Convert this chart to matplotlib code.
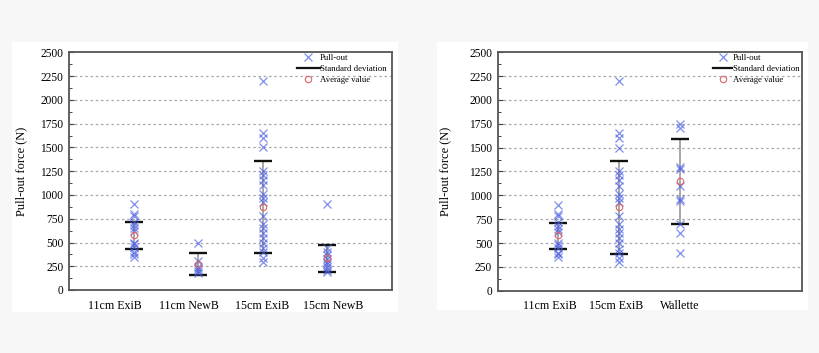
import matplotlib
matplotlib.use("Agg")
import matplotlib.pyplot as plt
from matplotlib.lines import Line2D
from matplotlib.patches import Rectangle
from matplotlib.ticker import MultipleLocator

plt.rcParams['font.family'] = ['Liberation Serif', 'DejaVu Serif']

# ---------------- data ----------------
left_categories = ["11cm ExiB", "11cm NewB", "15cm ExiB", "15cm NewB"]
right_categories = ["11cm ExiB", "15cm ExiB", "Wallette"]

exib11 = [900, 800, 780, 720, 680, 650, 620, 500, 480, 450, 400, 380, 350]
newb11 = [500, 310, 240, 220, 200, 180]
exib15 = [2200, 1650, 1600, 1500, 1250, 1210, 1160, 1100, 1010, 970, 930,
          780, 700, 650, 600, 550, 500, 440, 400, 340, 300]
newb15 = [900, 440, 400, 370, 330, 300, 270, 240, 210, 190]
wallette = [1750, 1710, 1300, 1280, 1100, 960, 940, 700, 600, 400]

left_series = [exib11, newb11, exib15, newb15]
left_mean = [580, 275, 875, 340]
left_std_low = [435, 155, 385, 190]
left_std_high = [715, 388, 1360, 470]

right_series = [exib11, exib15, wallette]
right_mean = [580, 875, 1152]
right_std_low = [435, 380, 700]
right_std_high = [715, 1358, 1590]

yticks = [0, 250, 500, 750, 1000, 1250, 1500, 1750, 2000, 2250, 2500]

# ---------------- figure ----------------
W, H = 820, 353
fig = plt.figure(figsize=(W / 100, H / 100), dpi=100)
fig.patch.set_facecolor('#f7f7f7')
fig.add_artist(Rectangle((12 / W, 1 - 312 / H), 386 / W, 270 / H,
                         transform=fig.transFigure, facecolor='white',
                         edgecolor='none', zorder=-10))
fig.add_artist(Rectangle((437 / W, 1 - 310 / H), 371 / W, 268 / H,
                         transform=fig.transFigure, facecolor='white',
                         edgecolor='none', zorder=-10))

ax1 = fig.add_axes([69 / W, 1 - 290 / H, 323 / W, 237.5 / H])
ax2 = fig.add_axes([497.7 / W, 1 - 290.7 / H, 304 / W, 238.4 / H])
ax1.set_zorder(5)
ax2.set_zorder(5)

XCOL = '#4a5fe0'
MCOL = '#e06464'


def draw(ax, series, means, lows, highs, labels, label_pos, leg_x, leg_handle_len):
    ax.set_facecolor('white')
    ax.set_xlim(0, 5)
    ax.set_ylim(0, 2500)
    for yv in yticks[1:-1]:
        ax.axhline(yv, color='#a8a8a8', lw=0.9, ls=(0, (2.0, 2.2)), zorder=1)
    for i, vals in enumerate(series):
        xpos = i + 1
        m = means[i]
        eb = ax.errorbar([xpos], [m], yerr=[[m - lows[i]], [highs[i] - m]],
                         fmt='none', ecolor='#a0a0a0', elinewidth=1.3,
                         capsize=6.2, capthick=1.7, zorder=2)
        for cl in eb[1]:
            cl.set_markeredgecolor('#111111')
            cl.set_color('#111111')
        ax.plot([xpos] * len(vals), vals, ls='none', marker='x', ms=5.2,
                mew=0.9, color=XCOL, alpha=0.7, zorder=3)
        ax.plot([xpos], [m], ls='none', marker='o', ms=4.6, mew=0.8,
                mfc='none', mec=MCOL, zorder=4)
    ax.set_yticks(yticks)
    ax.set_yticklabels([str(v) for v in yticks], fontsize=8.3)
    ax.yaxis.set_minor_locator(MultipleLocator(125))
    ax.tick_params(axis='y', which='major', direction='in', length=3.5,
                   width=0.8, color='#444444', pad=4)
    ax.tick_params(axis='y', which='minor', direction='in', length=2,
                   width=0.7, color='#444444')
    ax.set_xticks(label_pos)
    ax.set_xticklabels(labels, fontsize=8.6)
    ax.tick_params(axis='x', length=0, pad=7)
    for s in ax.spines.values():
        s.set_color('#555555')
        s.set_linewidth(1.3)
    ax.set_ylabel('Pull-out force (N)', fontsize=9)
    handles = [
        Line2D([], [], ls='none', marker='x', ms=5.2, mew=0.9, color=XCOL, alpha=0.7),
        Line2D([], [], color='#111111', lw=1.6),
        Line2D([], [], ls='none', marker='o', ms=4.6, mew=0.8, mfc='none', mec=MCOL),
    ]
    ax.legend(handles, ['Pull-out', 'Standard deviation', 'Average value'],
              loc='upper left', bbox_to_anchor=(leg_x, 0.995), frameon=False,
              fontsize=6.3, handlelength=leg_handle_len, handletextpad=0.05,
              labelspacing=0.35, borderpad=0, borderaxespad=0)


draw(ax1, left_series, left_mean, left_std_low, left_std_high,
     left_categories, [0.71, 1.86, 2.99, 4.09], 0.706, 2.6)
draw(ax2, right_series, right_mean, right_std_low, right_std_high,
     right_categories, [0.85, 1.95, 3.0], 0.708, 2.2)

ax1.yaxis.set_label_coords(-0.128, 0.5)
ax2.yaxis.set_label_coords(-0.153, 0.5)

fig.savefig('out.png', dpi=100, facecolor=fig.get_facecolor())
